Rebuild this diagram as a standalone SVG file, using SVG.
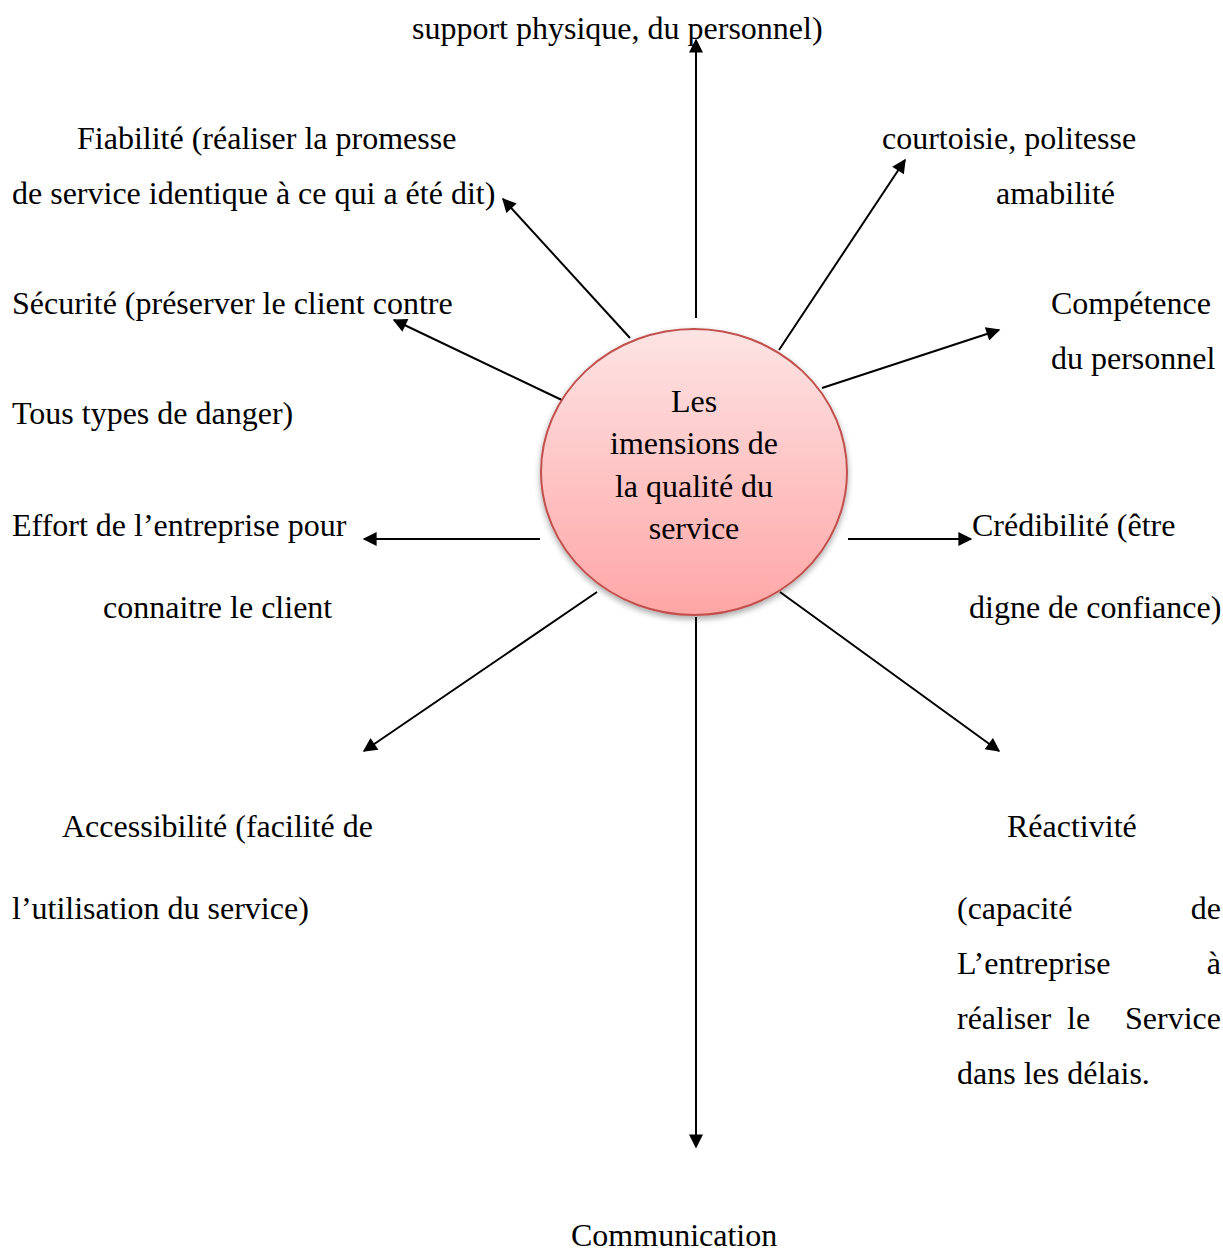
<svg xmlns="http://www.w3.org/2000/svg" width="1223" height="1248" viewBox="0 0 1223 1248">
<style>
text{font-family:"Liberation Serif","Times New Roman",serif;font-size:32px;fill:#000}
.c{stroke:#000;stroke-width:2;fill:none;marker-end:url(#ah)}
</style>
<defs>
<marker id="ah" viewBox="0 0 10 10" refX="9" refY="5" markerWidth="16" markerHeight="14" markerUnits="userSpaceOnUse" orient="auto"><path d="M0,0 L10,5 L0,10 z" fill="#000"/></marker>
<linearGradient id="g" x1="0" y1="0" x2="0" y2="1"><stop offset="0" stop-color="#fde4e4"/><stop offset="1" stop-color="#ffa6a6"/></linearGradient>
<filter id="sh" x="-20%" y="-20%" width="140%" height="140%"><feGaussianBlur in="SourceAlpha" stdDeviation="3"/><feOffset dx="0" dy="3"/><feComponentTransfer><feFuncA type="linear" slope="0.35"/></feComponentTransfer><feMerge><feMergeNode/><feMergeNode in="SourceGraphic"/></feMerge></filter>
</defs>
<rect width="1223" height="1248" fill="#fff"/>
<g id="connectors">
<line class="c" x1="696" y1="318" x2="696" y2="40"/>
<line class="c" x1="630" y1="338" x2="503" y2="199"/>
<line class="c" x1="566" y1="402" x2="394" y2="320"/>
<line class="c" x1="540" y1="539" x2="364" y2="539"/>
<line class="c" x1="597" y1="592" x2="364" y2="751"/>
<line class="c" x1="696" y1="617" x2="696" y2="1147"/>
<line class="c" x1="780" y1="592" x2="999" y2="751"/>
<line class="c" x1="848" y1="539" x2="971" y2="539"/>
<line class="c" x1="822" y1="388" x2="999" y2="330"/>
<line class="c" x1="779" y1="350" x2="905" y2="160"/>
</g>
<g id="center">
<ellipse cx="694" cy="472" rx="153" ry="143" fill="url(#g)" stroke="#c0504d" stroke-width="2" filter="url(#sh)"/>
<text x="694" y="412" text-anchor="middle">Les</text>
<text x="694" y="454" text-anchor="middle">imensions de</text>
<text x="694" y="497" text-anchor="middle">la qualité du</text>
<text x="694" y="539" text-anchor="middle">service</text>
</g>
<g id="top"><text x="412" y="39">support physique, du personnel)</text></g>
<g id="fiabilite"><text x="77" y="149">Fiabilité (réaliser la promesse</text><text x="12" y="204">de service identique à ce qui a été dit)</text></g>
<g id="courtoisie"><text x="882" y="149">courtoisie, politesse</text><text x="996" y="204">amabilité</text></g>
<g id="securite"><text x="12" y="314">Sécurité (préserver le client contre</text><text x="12" y="424">Tous types de danger)</text></g>
<g id="competence"><text x="1051" y="314">Compétence</text><text x="1051" y="369">du personnel</text></g>
<g id="effort"><text x="12" y="536">Effort de l’entreprise pour</text><text x="103" y="618">connaitre le client</text></g>
<g id="credibilite"><text x="972" y="536">Crédibilité (être</text><text x="969" y="618">digne de confiance)</text></g>
<g id="accessibilite"><text x="62" y="837">Accessibilité (facilité de</text><text x="12" y="919">l’utilisation du service)</text></g>
<g id="reactivite">
<text x="1007" y="837">Réactivité</text>
<text x="957" y="919">(capacité</text><text x="1221" y="919" text-anchor="end">de</text>
<text x="957" y="974">L’entreprise</text><text x="1221" y="974" text-anchor="end">à</text>
<text x="957" y="1029">réaliser</text><text x="1067" y="1029">le</text><text x="1221" y="1029" text-anchor="end">Service</text>
<text x="957" y="1084">dans les délais.</text>
</g>
<g id="communication"><text x="571" y="1246">Communication</text></g>
</svg>
